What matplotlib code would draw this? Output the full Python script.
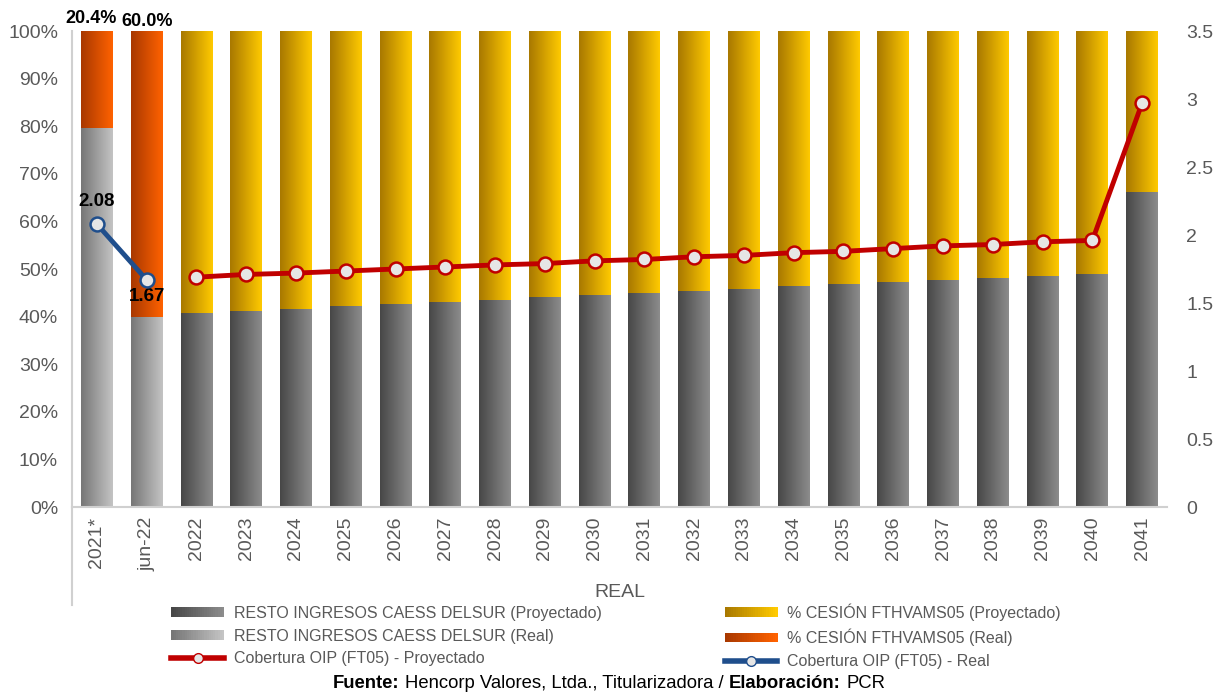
import numpy as np
import matplotlib
matplotlib.use("Agg")
import matplotlib.pyplot as plt
from matplotlib.colors import LinearSegmentedColormap, to_rgb
from matplotlib.patches import Rectangle
from matplotlib.legend_handler import HandlerBase
from matplotlib.lines import Line2D
from matplotlib.offsetbox import TextArea, HPacker, AnchoredOffsetbox

plt.rcParams['font.family'] = ['Liberation Sans', 'DejaVu Sans']

categories = ['2021*', 'jun-22', '2022', '2023', '2024', '2025', '2026', '2027', '2028',
              '2029', '2030', '2031', '2032', '2033', '2034', '2035', '2036', '2037',
              '2038', '2039', '2040', '2041']

# real periods (first two categories)
resto_real = [79.6, 40.0]
cesion_real = [20.4, 60.0]
cobertura_real = [2.08, 1.67]

# projected periods (2022-2041)
resto_proy = [40.8, 41.2, 41.6, 42.2, 42.6, 43.1, 43.5, 44.1, 44.5, 45.0, 45.4,
              45.8, 46.4, 46.8, 47.3, 47.7, 48.1, 48.5, 48.9, 66.2]
cesion_proy = [59.2, 58.8, 58.4, 57.8, 57.4, 56.9, 56.5, 55.9, 55.5, 55.0, 54.6,
               54.2, 53.6, 53.2, 52.7, 52.3, 51.9, 51.5, 51.1, 33.8]
cobertura_proy = [1.69, 1.71, 1.72, 1.735, 1.75, 1.765, 1.78, 1.79, 1.81, 1.82, 1.84,
                  1.85, 1.87, 1.88, 1.90, 1.92, 1.93, 1.95, 1.96, 2.97]

GRAY_P = ('#474747', '#8c8c8c')
GRAY_R = ('#767676', '#c4c4c4')
YELLOW = ('#a87800', '#ffca00')
ORANGE = ('#a83800', '#ff6200')
TXT = '#595959'

x_real = np.arange(len(resto_real))
x_proy = np.arange(len(resto_real), len(categories))

fig = plt.figure(figsize=(12.18, 6.97), dpi=100)
ax = fig.add_axes([72/1218, 1-507/697, (1167-72)/1218, 476/697])


def grad_bars(bars, cols):
    cmap = LinearSegmentedColormap.from_list('g', cols)
    g = np.linspace(0, 1, 128).reshape(1, -1)
    for b in bars:
        x0, y0 = b.get_x(), b.get_y()
        im = ax.imshow(g, extent=[x0, x0 + b.get_width(), y0, y0 + b.get_height()],
                       aspect='auto', cmap=cmap, zorder=2, interpolation='bilinear')
        im.set_clip_path(b)


w = 0.64
b1 = ax.bar(x_real, resto_real, w, color='none', edgecolor='none', zorder=1)
b2 = ax.bar(x_real, cesion_real, w, bottom=resto_real, color='none', edgecolor='none', zorder=1)
b3 = ax.bar(x_proy, resto_proy, w, color='none', edgecolor='none', zorder=1)
b4 = ax.bar(x_proy, cesion_proy, w, bottom=resto_proy, color='none', edgecolor='none', zorder=1)
grad_bars(b1, GRAY_R)
grad_bars(b2, ORANGE)
grad_bars(b3, GRAY_P)
grad_bars(b4, YELLOW)

ax.set_xlim(-0.5, len(categories) - 0.5)
ax.set_ylim(0, 100)
ax.set_yticks(np.arange(0, 101, 10))
ax.set_yticklabels([f'{v}%' for v in range(0, 101, 10)])
ax.set_xticks(np.arange(len(categories)))
ax.set_xticklabels(categories, rotation=90)
ax.tick_params(axis='both', length=0, colors=TXT, labelsize=14)
ax.tick_params(axis='y', pad=10)
ax.tick_params(axis='x', pad=7)
for s in ['top', 'right']:
    ax.spines[s].set_visible(False)
for s in ['left', 'bottom']:
    ax.spines[s].set_color('#d0d0d0')
    ax.spines[s].set_linewidth(1.5)

# category group line and label
ax.plot([0, 0], [0, -0.205], transform=ax.transAxes, color='#d0d0d0', lw=1.5, clip_on=False)
ax.text(0.5, -0.18, 'REAL', transform=ax.transAxes, ha='center', va='center',
        color=TXT, fontsize=14)

for xi, v, dx, dy in zip(x_real, cesion_real, [-4, 0], [3, 1]):
    ax.annotate(f'{v:.1f}%', (xi, 100), xytext=(dx, dy),
                textcoords='offset points', ha='center', va='bottom',
                fontsize=13, fontweight='bold', color='black', annotation_clip=False)

ax2 = ax.twinx()
ax2.set_ylim(0, 3.5)
ax2.set_yticks(np.arange(0, 3.6, 0.5))
ax2.set_yticklabels(['0', '0.5', '1', '1.5', '2', '2.5', '3', '3.5'])
ax2.tick_params(axis='y', length=0, colors=TXT, labelsize=14, pad=14)
for s in ax2.spines.values():
    s.set_visible(False)

ax2.plot(x_proy, cobertura_proy, color='#c00000', lw=3.5, marker='o', markersize=10,
         markerfacecolor='#e6e6e6', markeredgecolor='#c00000', markeredgewidth=1.8, zorder=5)
ax2.plot(x_real, cobertura_real, color='#1f4e8c', lw=3.5, marker='o', markersize=10,
         markerfacecolor='#e6e6e6', markeredgecolor='#1f4e8c', markeredgewidth=1.8, zorder=5)
ax2.annotate(f'{cobertura_real[0]:.2f}', (x_real[0], cobertura_real[0]), xytext=(0, 10),
             textcoords='offset points', ha='center', va='bottom', fontsize=13.5, fontweight='bold')
ax2.annotate(f'{cobertura_real[1]:.2f}', (x_real[1], cobertura_real[1]), xytext=(0, -6),
             textcoords='offset points', ha='center', va='top', fontsize=13.5, fontweight='bold')


class GradHandler(HandlerBase):
    def __init__(self, cols):
        super().__init__()
        self.c0 = np.array(to_rgb(cols[0]))
        self.c1 = np.array(to_rgb(cols[1]))

    def create_artists(self, legend, orig_handle, xdescent, ydescent, width, height, fontsize, trans):
        n = 24
        arts = []
        for i in range(n):
            c = self.c0 + (self.c1 - self.c0) * i / (n - 1)
            arts.append(Rectangle((-xdescent + i * width / n, -ydescent), width / n * 1.1, height,
                                  facecolor=c, edgecolor='none', transform=trans))
        return arts


h_rp = Rectangle((0, 0), 1, 1)
h_rr = Rectangle((0, 0), 1, 1)
h_cp = Rectangle((0, 0), 1, 1)
h_cr = Rectangle((0, 0), 1, 1)
h_lp = Line2D([], [], color='#c00000', lw=4, marker='o', markersize=7,
              markerfacecolor='#e6e6e6', markeredgecolor='#c00000')
h_lr = Line2D([], [], color='#1f4e8c', lw=4, marker='o', markersize=7,
              markerfacecolor='#e6e6e6', markeredgecolor='#1f4e8c')

handles = [h_rp, h_rr, h_lp, h_cp, h_cr, h_lr]
labels = ['RESTO INGRESOS CAESS DELSUR (Proyectado)', 'RESTO INGRESOS CAESS DELSUR (Real)',
          'Cobertura OIP (FT05) - Proyectado', '% CESIÓN FTHVAMS05 (Proyectado)',
          '% CESIÓN FTHVAMS05 (Real)', 'Cobertura OIP (FT05) - Real']
leg = fig.legend(handles, labels, ncol=2, loc='center', bbox_to_anchor=(616/1218, 1-636/697),
                 frameon=False, fontsize=11.5, handlelength=3.3, handleheight=0.55,
                 handletextpad=0.6, columnspacing=7.7, labelspacing=0.5,
                 labelcolor=TXT,
                 handler_map={h_rp: GradHandler(GRAY_P), h_rr: GradHandler(GRAY_R),
                              h_cp: GradHandler(YELLOW), h_cr: GradHandler(ORANGE)})

# source line with mixed bold / regular text
fp = dict(fontsize=13.3, color='black')
parts = [TextArea('Fuente:', textprops=dict(fontweight='bold', **fp)),
         TextArea('Hencorp Valores, Ltda., Titularizadora /', textprops=fp),
         TextArea('Elaboración:', textprops=dict(fontweight='bold', **fp)),
         TextArea('PCR', textprops=fp)]
src = AnchoredOffsetbox(loc='center', child=HPacker(children=parts, align='baseline', pad=0, sep=4),
                        frameon=False, pad=0, borderpad=0,
                        bbox_to_anchor=(609/1218, 1-684/697), bbox_transform=fig.transFigure)
fig.add_artist(src)

fig.savefig('out.png', dpi=100)
